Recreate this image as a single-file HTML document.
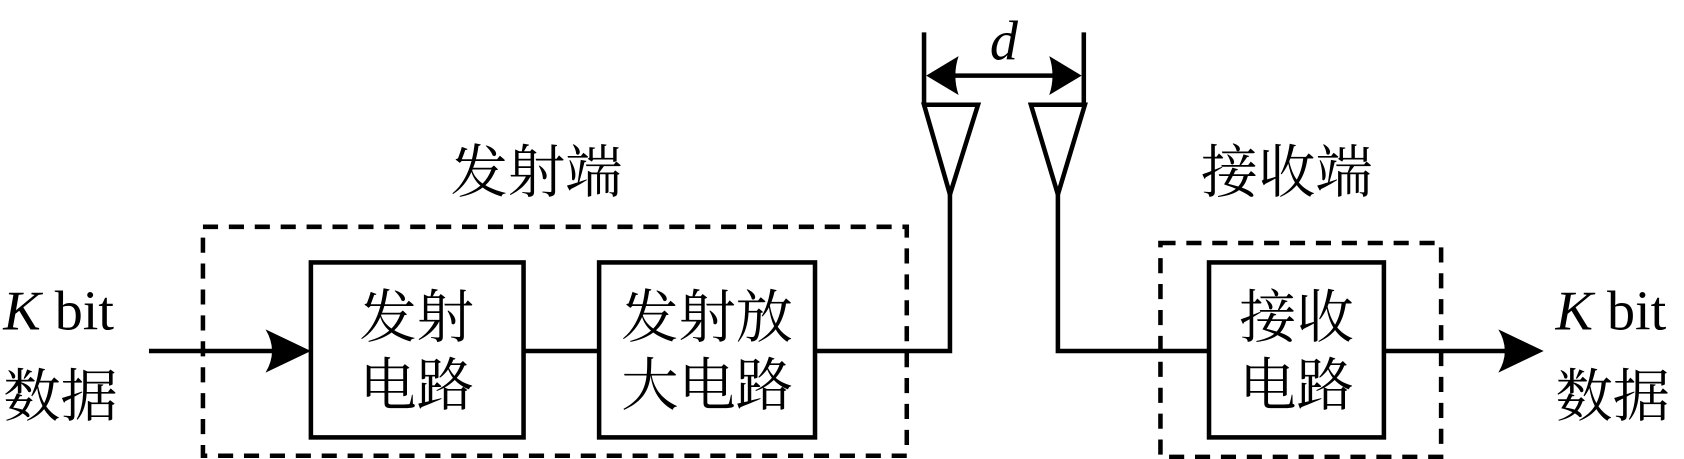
<!DOCTYPE html>
<html><head><meta charset="utf-8"><style>
html,body{margin:0;padding:0;background:#fff;}
svg{display:block;}
.cj{font-family:"Liberation Serif","Noto Serif CJK SC",serif;font-size:53px;fill:#000;}
.lt{font-family:"Liberation Serif",serif;font-size:52px;fill:#000;}
</style></head><body>
<svg width="1684" height="459" viewBox="0 0 1560 425" preserveAspectRatio="none" xmlns="http://www.w3.org/2000/svg">
<g fill="none" stroke="#000" stroke-width="4.2">
<rect x="188" y="210" width="652" height="212" stroke-dasharray="14,10"/>
<rect x="1075" y="225" width="260" height="198" stroke-dasharray="14,10"/>
<rect x="288" y="243" width="197" height="162"/>
<rect x="555" y="243" width="200" height="162"/>
<rect x="1120" y="243" width="162" height="162"/>
<polyline points="138,325 280,325"/>
<polyline points="485,325 555,325"/>
<polyline points="755,325 880,325 880,180"/>
<polyline points="980,180 980,325 1120,325"/>
<polyline points="1282,325 1420,325"/>
<polygon points="856,97 906,97 880,180"/>
<polygon points="955,97 1005,97 980,180"/>
<line x1="856" y1="30" x2="856" y2="97"/>
<line x1="1004" y1="30" x2="1004" y2="97"/>
<line x1="870" y1="70" x2="990" y2="70"/>
</g>
<g fill="#000">
<path d="M288,325 L246,305 Q258,325 246,345 Z"/>
<path d="M1430,325 L1388,305 Q1400,325 1388,345 Z"/>
<path d="M858,70 L888,52 Q882,70 888,88 Z"/>
<path d="M1002,70 L972,52 Q978,70 972,88 Z"/>
</g>
<text class="lt" x="3" y="305"><tspan font-style="italic">K</tspan> bit</text>
<text class="cj" x="3" y="385">数据</text>
<text class="lt" x="1441" y="305"><tspan font-style="italic">K</tspan> bit</text>
<text class="cj" x="1441" y="385">数据</text>
<text class="lt" x="917" y="55" font-style="italic">d</text>
<text class="cj" x="497" y="178" text-anchor="middle">发射端</text>
<text class="cj" x="1192" y="178" text-anchor="middle">接收端</text>
<text class="cj" x="386" y="312" text-anchor="middle">发射</text>
<text class="cj" x="386" y="375" text-anchor="middle">电路</text>
<text class="cj" x="655" y="312" text-anchor="middle">发射放</text>
<text class="cj" x="655" y="375" text-anchor="middle">大电路</text>
<text class="cj" x="1201" y="312" text-anchor="middle">接收</text>
<text class="cj" x="1201" y="375" text-anchor="middle">电路</text>
</svg>
</body></html>
